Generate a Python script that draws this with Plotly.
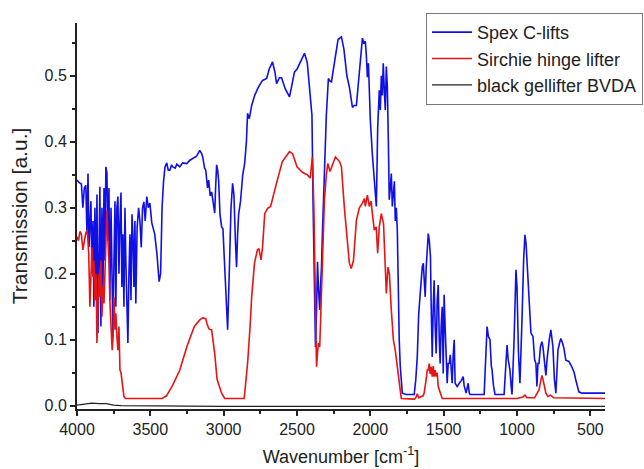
import plotly.graph_objects as go

# Spex C-lifts (blue)
spex_wn = [4000, 3985, 3970, 3960, 3950, 3940, 3932, 3925, 3918, 3912, 3905, 3898, 3891, 3885, 3878,
           3870, 3864, 3857, 3850, 3844, 3837, 3830, 3823, 3816, 3810, 3803, 3796, 3789, 3782, 3776,
           3768, 3760, 3755, 3748, 3741, 3735, 3728, 3721, 3714, 3707, 3700, 3694, 3687, 3680, 3673,
           3667, 3660, 3653, 3646, 3639, 3632, 3625, 3619, 3612, 3605, 3599, 3590, 3580, 3571, 3562,
           3553, 3544, 3535, 3524, 3514, 3503, 3490, 3470, 3455, 3440, 3430, 3420, 3410, 3400, 3388,
           3378, 3367, 3355, 3347, 3330, 3320, 3299, 3280, 3252, 3230, 3211, 3185, 3163, 3150, 3143,
           3130, 3122, 3110, 3102, 3092, 3082, 3070, 3061, 3055, 3048, 3041, 3034, 3025, 3014, 3005,
           2993, 2980, 2973, 2962, 2950, 2939, 2930, 2920, 2912, 2905, 2898, 2885, 2870, 2857, 2845,
           2837, 2825, 2809, 2789, 2765, 2735, 2707, 2690, 2667, 2650, 2639, 2620, 2605, 2580, 2551,
           2530, 2517, 2500, 2470, 2449, 2430, 2415, 2405, 2398, 2390, 2381, 2374, 2367, 2360, 2354,
           2345, 2340, 2333, 2327, 2313, 2300, 2286, 2275, 2265, 2240, 2220, 2197, 2180, 2160, 2143,
           2122, 2110, 2095, 2075, 2062, 2054, 2045, 2034, 2027, 2020, 2013, 2007, 2000, 1986, 1973,
           1966, 1959, 1950, 1939, 1932, 1925, 1918, 1912, 1905, 1898, 1891, 1884, 1877, 1871, 1864,
           1857, 1850, 1843, 1836, 1830, 1823, 1816, 1810, 1803, 1796, 1789, 1782, 1755, 1701, 1690,
           1680, 1670, 1660, 1650, 1646, 1639, 1633, 1626, 1619, 1612, 1605, 1598, 1590, 1585, 1578,
           1571, 1565, 1558, 1551, 1544, 1537, 1530, 1524, 1517, 1510, 1503, 1497, 1490, 1483, 1476,
           1469, 1462, 1455, 1449, 1442, 1435, 1428, 1422, 1415, 1408, 1394, 1380, 1367, 1360, 1347,
           1340, 1333, 1325, 1320, 1224, 1215, 1204, 1195, 1184, 1175, 1170, 1160, 1150, 1088, 1078,
           1068, 1060, 1048, 1040, 1034, 1020, 1007, 1000, 990, 980, 973, 966, 955, 946, 938,
           932, 920, 905, 891, 880, 871, 864, 857, 850, 840, 830, 823, 815, 803, 795,
           789, 780, 769, 760, 755, 745, 735, 728, 721, 710, 701, 690, 680, 667, 646,
           626, 610, 599, 578, 558, 400]
spex_t = [0.342, 0.338, 0.336, 0.300, 0.330, 0.334, 0.260, 0.352, 0.240, 0.266, 0.310, 0.200, 0.280, 0.150, 0.300,
          0.180, 0.320, 0.110, 0.250, 0.332, 0.120, 0.300, 0.180, 0.330, 0.220, 0.362, 0.352, 0.250, 0.330, 0.160,
          0.300, 0.200, 0.105, 0.220, 0.310, 0.150, 0.300, 0.317, 0.200, 0.280, 0.323, 0.180, 0.260, 0.150, 0.300,
          0.220, 0.140, 0.095, 0.200, 0.260, 0.160, 0.290, 0.260, 0.180, 0.280, 0.155, 0.270, 0.300, 0.280, 0.240,
          0.300, 0.309, 0.280, 0.317, 0.300, 0.307, 0.277, 0.260, 0.230, 0.188, 0.200, 0.300, 0.340, 0.362, 0.368,
          0.357, 0.357, 0.365, 0.362, 0.360, 0.366, 0.362, 0.368, 0.367, 0.372, 0.375, 0.378, 0.387, 0.382, 0.377,
          0.360, 0.357, 0.330, 0.342, 0.318, 0.324, 0.300, 0.292, 0.330, 0.365, 0.357, 0.340, 0.290, 0.271, 0.268,
          0.200, 0.150, 0.115, 0.200, 0.300, 0.337, 0.320, 0.250, 0.210, 0.260, 0.290, 0.310, 0.350, 0.367, 0.400,
          0.443, 0.435, 0.455, 0.470, 0.482, 0.493, 0.496, 0.510, 0.521, 0.505, 0.488, 0.497, 0.497, 0.480, 0.468,
          0.490, 0.506, 0.510, 0.525, 0.534, 0.520, 0.480, 0.463, 0.440, 0.300, 0.150, 0.089, 0.140, 0.218, 0.180,
          0.145, 0.180, 0.210, 0.260, 0.357, 0.440, 0.496, 0.492, 0.491, 0.530, 0.555, 0.559, 0.540, 0.500, 0.483,
          0.452, 0.455, 0.455, 0.509, 0.540, 0.557, 0.550, 0.552, 0.530, 0.498, 0.519, 0.480, 0.433, 0.380, 0.337,
          0.310, 0.302, 0.420, 0.478, 0.448, 0.500, 0.470, 0.519, 0.480, 0.448, 0.514, 0.483, 0.400, 0.312, 0.330,
          0.352, 0.302, 0.330, 0.340, 0.280, 0.300, 0.266, 0.180, 0.100, 0.060, 0.030, 0.019, 0.017, 0.017, 0.040,
          0.074, 0.140, 0.170, 0.200, 0.210, 0.216, 0.190, 0.165, 0.210, 0.240, 0.261, 0.250, 0.226, 0.150, 0.074,
          0.150, 0.190, 0.120, 0.079, 0.160, 0.183, 0.100, 0.064, 0.120, 0.150, 0.049, 0.168, 0.120, 0.054, 0.034,
          0.064, 0.064, 0.077, 0.054, 0.034, 0.077, 0.100, 0.034, 0.030, 0.029, 0.034, 0.038, 0.044, 0.030, 0.019,
          0.028, 0.034, 0.019, 0.017, 0.017, 0.060, 0.120, 0.105, 0.100, 0.060, 0.054, 0.030, 0.017, 0.017, 0.050,
          0.092, 0.070, 0.054, 0.030, 0.017, 0.100, 0.206, 0.180, 0.080, 0.034, 0.100, 0.130, 0.220, 0.259, 0.245,
          0.221, 0.170, 0.110, 0.105, 0.070, 0.064, 0.029, 0.064, 0.064, 0.090, 0.097, 0.089, 0.070, 0.046, 0.070,
          0.084, 0.100, 0.115, 0.100, 0.089, 0.040, 0.019, 0.050, 0.084, 0.095, 0.102, 0.095, 0.087, 0.069, 0.067,
          0.059, 0.050, 0.039, 0.021, 0.019, 0.019]

# Sirchie hinge lifter (red)
sirchie_wn = [4000, 3990, 3980, 3970, 3960, 3950, 3940, 3930, 3920, 3912, 3905, 3898, 3891, 3885, 3878,
              3870, 3864, 3857, 3850, 3844, 3837, 3830, 3823, 3816, 3810, 3803, 3796, 3789, 3782, 3776,
              3768, 3760, 3755, 3748, 3741, 3735, 3728, 3721, 3714, 3707, 3700, 3694, 3687, 3680, 3670,
              3420, 3390, 3350, 3299, 3250, 3200, 3163, 3143, 3122, 3115, 3102, 3090, 3082, 3061, 3045,
              3014, 2993, 2860, 2850, 2837, 2820, 2809, 2790, 2770, 2760, 2745, 2735, 2720, 2700, 2680,
              2640, 2600, 2551, 2530, 2500, 2470, 2449, 2430, 2410, 2395, 2385, 2374, 2367, 2360, 2354,
              2345, 2335, 2313, 2300, 2290, 2275, 2238, 2210, 2197, 2177, 2160, 2143, 2130, 2115, 2095,
              2075, 2054, 2040, 2034, 2020, 2007, 1995, 1986, 1973, 1960, 1950, 1939, 1925, 1910, 1891,
              1880, 1870, 1857, 1843, 1830, 1816, 1803, 1789, 1700, 1690, 1680, 1670, 1640, 1633, 1620,
              1612, 1605, 1598, 1592, 1585, 1578, 1571, 1565, 1558, 1551, 1544, 1537, 1524, 1510, 1000,
              960, 946, 932, 880, 860, 850, 840, 830, 823, 815, 803, 789, 770, 750, 400]
sirchie_t = [0.256, 0.250, 0.264, 0.260, 0.236, 0.250, 0.262, 0.266, 0.230, 0.150, 0.200, 0.240, 0.195, 0.220, 0.160,
             0.200, 0.095, 0.140, 0.200, 0.165, 0.220, 0.135, 0.180, 0.155, 0.200, 0.260, 0.296, 0.250, 0.221, 0.160,
             0.120, 0.084, 0.100, 0.165, 0.115, 0.140, 0.105, 0.084, 0.120, 0.054, 0.050, 0.039, 0.030, 0.014, 0.011,
             0.011, 0.015, 0.030, 0.054, 0.090, 0.120, 0.130, 0.133, 0.132, 0.125, 0.117, 0.115, 0.115, 0.079, 0.040,
             0.019, 0.011, 0.011, 0.030, 0.064, 0.120, 0.165, 0.216, 0.236, 0.238, 0.221, 0.240, 0.291, 0.299, 0.302,
             0.337, 0.370, 0.385, 0.382, 0.362, 0.355, 0.352, 0.350, 0.345, 0.377, 0.300, 0.100, 0.059, 0.080, 0.095,
             0.089, 0.150, 0.312, 0.350, 0.367, 0.355, 0.377, 0.370, 0.362, 0.300, 0.261, 0.216, 0.208, 0.220, 0.281,
             0.300, 0.307, 0.314, 0.302, 0.319, 0.302, 0.310, 0.291, 0.266, 0.271, 0.231, 0.271, 0.291, 0.276, 0.170,
             0.210, 0.200, 0.145, 0.100, 0.084, 0.059, 0.030, 0.011, 0.010, 0.012, 0.018, 0.012, 0.015, 0.019, 0.039,
             0.054, 0.054, 0.064, 0.048, 0.059, 0.044, 0.060, 0.044, 0.054, 0.044, 0.050, 0.029, 0.019, 0.011, 0.011,
             0.013, 0.016, 0.012, 0.012, 0.020, 0.024, 0.035, 0.046, 0.040, 0.029, 0.019, 0.014, 0.016, 0.012, 0.011]

# black gellifter BVDA
bvda_wn = [4000, 3950, 3900, 3850, 3800, 3750, 3700, 3000, 2000, 1000, 400]
bvda_t = [0.001, 0.002, 0.004, 0.003, 0.003, 0.001, 0.000, -0.001, -0.001, -0.001, -0.001]

fig = go.Figure()
fig.add_trace(go.Scatter(x=spex_wn, y=spex_t, mode="lines", name="Spex C-lifts",
                         line=dict(color="#1010e6", width=1.6)))
fig.add_trace(go.Scatter(x=sirchie_wn, y=sirchie_t, mode="lines", name="Sirchie hinge lifter",
                         line=dict(color="#e61414", width=1.6)))
fig.add_trace(go.Scatter(x=bvda_wn, y=bvda_t, mode="lines", name="black gellifter BVDA",
                         line=dict(color="#222222", width=1.2)))

fig.update_layout(
    width=644, height=469,
    margin=dict(l=77, r=39, t=23, b=60, autoexpand=False),
    paper_bgcolor="white", plot_bgcolor="white",
    font=dict(family="Arial, Liberation Sans, sans-serif", size=16, color="#222"),
    showlegend=True,
    legend=dict(x=0.661, y=1.026, xanchor="left", yanchor="top",
                bordercolor="#777", borderwidth=1, bgcolor="white",
                font=dict(size=18), tracegroupgap=0, itemwidth=40),
    xaxis=dict(
        range=[4000, 400], tickmode="array",
        tickvals=[4000, 3500, 3000, 2500, 2000, 1500, 1000, 500],
        ticks="outside", ticklen=5, tickwidth=1.5, tickcolor="#222",
        minor=dict(ticks="outside", ticklen=3, tickwidth=1.5, dtick=250, tick0=0, tickcolor="#222"),
        showline=True, linecolor="#222", linewidth=2, showgrid=False, zeroline=False,
        title=dict(text="Wavenumber [cm<sup>-1</sup>]", font=dict(size=18), standoff=13),
    ),
    yaxis=dict(
        range=[-0.005, 0.58], tickmode="array",
        tickvals=[0.0, 0.1, 0.2, 0.3, 0.4, 0.5], tickformat=".1f",
        ticks="outside", ticklen=5, tickwidth=1.5, tickcolor="#222",
        minor=dict(ticks="outside", ticklen=3, tickwidth=1.5, dtick=0.05, tick0=0, tickcolor="#222"),
        showline=True, linecolor="#222", linewidth=2, showgrid=False, zeroline=False,
        title=dict(text="Transmission [a.u.]", font=dict(size=21), standoff=11),
    ),
)

# drop the default page margin so the figure sits at the window's top-left corner
fig.write_html("out.html", config={"displayModeBar": False},
               post_script="document.body.style.margin='0';")
